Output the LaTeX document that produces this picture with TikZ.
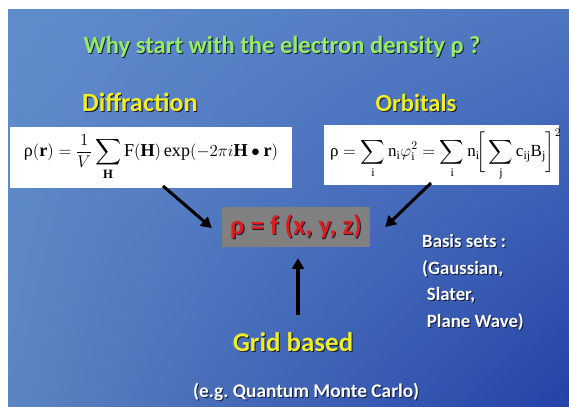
\documentclass[tikz,border=0pt]{standalone}
\usepackage{amsmath,amssymb}
\usepackage{fontspec}
\setmainfont{Liberation Serif}
\newfontfamily\slidefont{Carlito}
\usetikzlibrary{calc,positioning,arrows.meta,shadings}
\definecolor{mybluelt}{RGB}{96,140,204}
\definecolor{mybluemid}{RGB}{78,118,192}
\definecolor{mybluedk}{RGB}{36,66,168}
\definecolor{mygreen}{RGB}{150,236,100}
\definecolor{myyellow}{RGB}{240,236,40}
\definecolor{myred}{RGB}{220,30,30}
\definecolor{mygray}{RGB}{128,128,128}
\definecolor{myshadow}{RGB}{20,30,60}
% text with a small drop shadow
\newcommand{\shd}[2]{\makebox[0pt][l]{\hspace{0.9pt}\raisebox{-0.9pt}{\color{myshadow}#2}}{\color{#1}#2}}
\tikzset{
  slidetext/.style={inner sep=0pt, font=\slidefont\bfseries},
  formbox/.style={draw=none, fill=white, inner sep=0pt},
  arr/.style={-{Triangle[length=9pt,width=10pt]}, line width=2.6pt, black}
}
\frenchspacing
\begin{document}
\begin{tikzpicture}[x=0.03cm,y=-0.03cm]
  \useasboundingbox (0,0) rectangle (569,406);
  \fill[white] (0,0) rectangle (569,406);
  \shade[upper left=mybluelt, upper right=mybluemid, lower left=mybluelt!95!black, lower right=mybluedk]
    (8,9) rectangle (569,406);

  % title and headings
  \node[slidetext, font=\slidefont\bfseries\fontsize{21}{24}\selectfont] (title) at (282,47)
    {\shd{mygreen}{Why start with the electron density ρ ?}};
  \node[slidetext, font=\slidefont\bfseries\fontsize{22.5}{26}\selectfont] (diff) at (140,103)
    {\shd{myyellow}{Diffraction}};
  \node[slidetext, font=\slidefont\bfseries\fontsize{21}{24}\selectfont] (orb) at (416,103)
    {\shd{myyellow}{Orbitals}};

  % formulas
  \node[formbox, minimum width=282*0.03cm, minimum height=61*0.03cm, font=\fontsize{15.5}{19}\selectfont] (fdiff) at (151,157)
    {\makebox[0pt]{$\textrm{ρ}(\mathbf{r}) = \dfrac{1}{V}\displaystyle\sum_{\mathbf{H}}\mathrm{F}(\mathbf{H})\exp(-2\pi i\mathbf{H}\bullet\mathbf{r})$}};
  \node[formbox, minimum width=235*0.03cm, minimum height=60*0.03cm, font=\fontsize{14.5}{18}\selectfont] (forb) at (441,155)
    {\hspace{8pt}\makebox[0pt]{$\displaystyle\textrm{ρ} = \sum_{\mathrm{i}}\mathrm{n}_{\mathrm{i}}\varphi_{\mathrm{i}}^2 = \sum_{\mathrm{i}}\mathrm{n}_{\mathrm{i}}\!\bigg[\sum_{\mathrm{j}}\mathrm{c}_{\mathrm{ij}}\mathrm{B}_{\mathrm{j}}\bigg]^2$}};

  % central density
  \node[fill=mygray, minimum width=148*0.03cm, minimum height=40*0.03cm, inner sep=0pt,
        font=\slidefont\bfseries\fontsize{23}{27}\selectfont] (rho) at (296,227)
    {\shd{myred}{ρ = f (x, y, z)}};

  % bottom and side texts
  \node[slidetext, font=\slidefont\bfseries\fontsize{23}{27}\selectfont] (grid) at (293,343)
    {\shd{myyellow}{Grid based}};
  \node[slidetext, font=\slidefont\bfseries\fontsize{16.5}{19}\selectfont] (qmc) at (306,392)
    {\shd{white}{(e.g. Quantum Monte Carlo)}};
  \node[slidetext, anchor=west, align=left, font=\slidefont\bfseries\fontsize{16}{22.7}\selectfont] (basis) at (422,283)
    {\shd{white}{Basis sets :}\\ \shd{white}{(Gaussian,}\\ \hspace{4pt}\shd{white}{Slater,}\\ \hspace{4pt}\shd{white}{Plane Wave)}};

  % arrows
  \coordinate (a1) at (163,186);
  \coordinate (a2) at (431,183);
  \draw[arr] (a1) -- ($(rho.west)+(-10,1)$);
  \draw[arr] (a2) -- ($(rho.east)+(15,0)$);
  \draw[arr] ($(grid.north)+(5,-18)$) -- ($(rho.south)+(2,11)$);
\end{tikzpicture}
\end{document}
